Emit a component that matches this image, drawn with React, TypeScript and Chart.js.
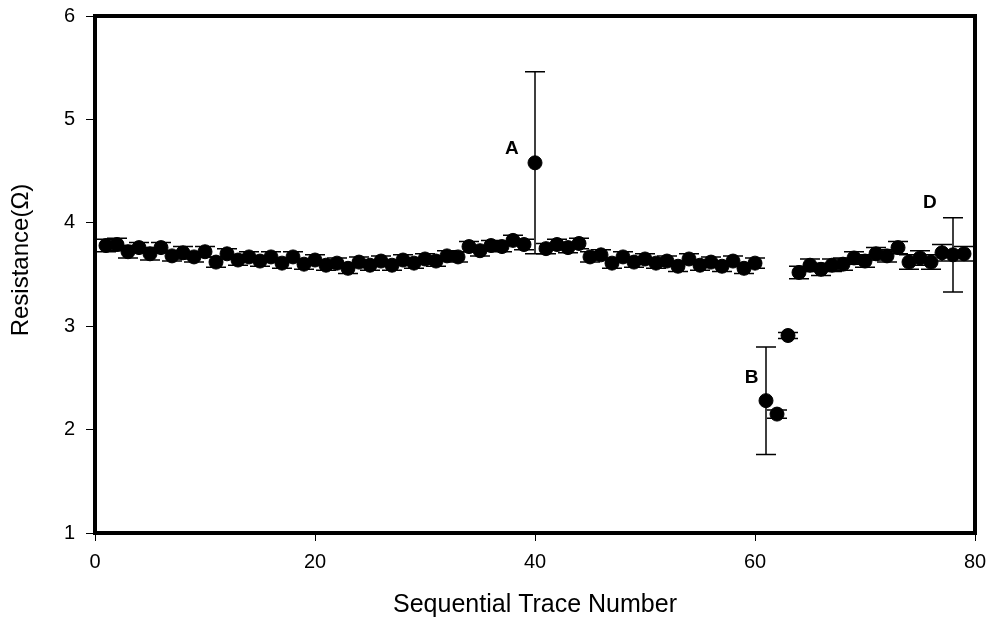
import React, { useEffect, useRef } from "react";
import { Chart, registerables } from "chart.js";

Chart.register(...registerables);

const traceNumbers = [
  1, 2, 3, 4, 5, 6, 7, 8, 9, 10, 11, 12, 13, 14, 15, 16, 17, 18, 19, 20,
  21, 22, 23, 24, 25, 26, 27, 28, 29, 30, 31, 32, 33, 34, 35, 36, 37, 38, 39, 40,
  41, 42, 43, 44, 45, 46, 47, 48, 49, 50, 51, 52, 53, 54, 55, 56, 57, 58, 59, 60,
  61, 62, 63, 64, 65, 66, 67, 68, 69, 70, 71, 72, 73, 74, 75, 76, 77, 78, 79,
];

const resistance = [
  3.78, 3.79, 3.72, 3.76, 3.7, 3.76, 3.68, 3.71, 3.67, 3.72,
  3.62, 3.7, 3.64, 3.67, 3.63, 3.67, 3.61, 3.67, 3.6, 3.64,
  3.59, 3.61, 3.56, 3.62, 3.59, 3.63, 3.59, 3.64, 3.61, 3.65,
  3.63, 3.68, 3.67, 3.77, 3.73, 3.78, 3.77, 3.83, 3.79, 4.58,
  3.75, 3.79, 3.76, 3.8, 3.67, 3.69, 3.61, 3.67, 3.62, 3.65,
  3.61, 3.63, 3.58, 3.65, 3.59, 3.62, 3.58, 3.63, 3.56, 3.61,
  2.28, 2.15, 2.91, 3.52, 3.59, 3.55, 3.59, 3.6, 3.66, 3.63,
  3.7, 3.68, 3.76, 3.62, 3.66, 3.62, 3.71, 3.69, 3.7,
];

const errors = [
  0.06, 0.06, 0.06, 0.05, 0.06, 0.05, 0.05, 0.06, 0.05, 0.05,
  0.05, 0.05, 0.05, 0.05, 0.05, 0.05, 0.05, 0.05, 0.05, 0.05,
  0.05, 0.05, 0.05, 0.05, 0.05, 0.05, 0.05, 0.05, 0.05, 0.05,
  0.05, 0.05, 0.05, 0.05, 0.05, 0.05, 0.05, 0.05, 0.05, 0.88,
  0.05, 0.05, 0.05, 0.05, 0.05, 0.05, 0.05, 0.05, 0.05, 0.05,
  0.05, 0.05, 0.05, 0.05, 0.05, 0.05, 0.05, 0.05, 0.05, 0.05,
  0.52, 0.04, 0.03, 0.06, 0.06, 0.06, 0.06, 0.06, 0.06, 0.06,
  0.06, 0.06, 0.06, 0.07, 0.07, 0.07, 0.08, 0.36, 0.07,
];

const annotationTexts = ["A", "B", "D"];
const annotationX = [37.9, 59.7, 75.9];
const annotationY = [4.72, 2.5, 4.19];

const xTicks = [0, 20, 40, 60, 80];
const yTicks = [1, 2, 3, 4, 5, 6];

const xTitle = "Sequential Trace Number";
const yTitle = "Resistance(Ω)";

const FONT = "'Liberation Sans', Arial, sans-serif";

export default function App() {
  const canvasRef = useRef<HTMLCanvasElement | null>(null);

  useEffect(() => {
    const canvas = canvasRef.current;
    if (!canvas) return;

    const errorBarPlugin = {
      id: "errorBars",
      beforeDatasetsDraw(chart: any) {
        const ctx = chart.ctx;
        const xs = chart.scales.x;
        const ys = chart.scales.y;
        ctx.save();
        ctx.strokeStyle = "#000";
        ctx.lineWidth = 1.5;
        for (let i = 0; i < traceNumbers.length; i++) {
          const px = xs.getPixelForValue(traceNumbers[i]);
          const top = ys.getPixelForValue(resistance[i] + errors[i]);
          const bot = ys.getPixelForValue(resistance[i] - errors[i]);
          const cap = 10;
          ctx.beginPath();
          ctx.moveTo(px, top);
          ctx.lineTo(px, bot);
          ctx.moveTo(px - cap, top);
          ctx.lineTo(px + cap, top);
          ctx.moveTo(px - cap, bot);
          ctx.lineTo(px + cap, bot);
          ctx.stroke();
        }
        ctx.restore();
      },
      afterDraw(chart: any) {
        const ctx = chart.ctx;
        const a = chart.chartArea;
        const xs = chart.scales.x;
        const ys = chart.scales.y;
        ctx.save();
        ctx.strokeStyle = "#000";
        ctx.lineWidth = 4;
        ctx.strokeRect(a.left, a.top, a.right - a.left, a.bottom - a.top);
        ctx.fillStyle = "#000";
        ctx.font = `bold 19px ${FONT}`;
        ctx.textAlign = "center";
        ctx.textBaseline = "middle";
        for (let i = 0; i < annotationTexts.length; i++) {
          ctx.fillText(
            annotationTexts[i],
            xs.getPixelForValue(annotationX[i]),
            ys.getPixelForValue(annotationY[i])
          );
        }
        // y-axis title
        ctx.font = `24px ${FONT}`;
        ctx.translate(21, 260);
        ctx.rotate(-Math.PI / 2);
        ctx.fillText(yTitle, 0, 0);
        ctx.restore();
      },
    };

    const chart = new Chart(canvas, {
      type: "scatter",
      data: {
        datasets: [
          {
            data: traceNumbers.map((x, i) => ({ x, y: resistance[i] })),
            backgroundColor: "#000",
            borderColor: "#000",
            pointRadius: 7,
            pointHoverRadius: 7,
            showLine: false,
          },
        ],
      },
      options: {
        animation: false,
        responsive: false,
        events: [],
        layout: { padding: { top: 16, right: 17, left: 0, bottom: 0 } },
        plugins: { legend: { display: false }, tooltip: { enabled: false } },
        scales: {
          x: {
            type: "linear",
            min: 0,
            max: 80,
            afterBuildTicks: (s: any) => {
              s.ticks = xTicks.map((v) => ({ value: v }));
            },
            afterFit: (s: any) => {
              s.height = 87;
              s.paddingLeft = 0;
              s.paddingRight = 0;
            },
            grid: {
              drawOnChartArea: false,
              drawTicks: true,
              tickLength: 8,
              color: "#000",
              lineWidth: 1,
            },
            border: { display: false },
            ticks: {
              color: "#000",
              font: { family: FONT, size: 20 },
              padding: 9,
              maxRotation: 0,
            },
            title: {
              display: true,
              text: xTitle,
              color: "#000",
              font: { family: FONT, size: 25 },
              padding: { top: 0, bottom: 0 },
            },
          },
          y: {
            type: "linear",
            min: 1,
            max: 6,
            afterBuildTicks: (s: any) => {
              s.ticks = yTicks.map((v) => ({ value: v }));
            },
            afterFit: (s: any) => {
              s.width = 95;
              s.paddingTop = 0;
              s.paddingBottom = 0;
            },
            grid: {
              drawOnChartArea: false,
              drawTicks: true,
              tickLength: 9,
              color: "#000",
              lineWidth: 1,
            },
            border: { display: false },
            ticks: {
              color: "#000",
              font: { family: FONT, size: 20 },
              padding: 11,
            },
          },
        },
      },
      plugins: [errorBarPlugin],
    } as any);

    return () => chart.destroy();
  }, []);

  return (
    <div style={{ position: "fixed", left: 0, top: 0, width: 992, height: 620, background: "#fff" }}>
      <canvas ref={canvasRef} width={992} height={620} style={{ width: 992, height: 620, display: "block" }} />
    </div>
  );
}
